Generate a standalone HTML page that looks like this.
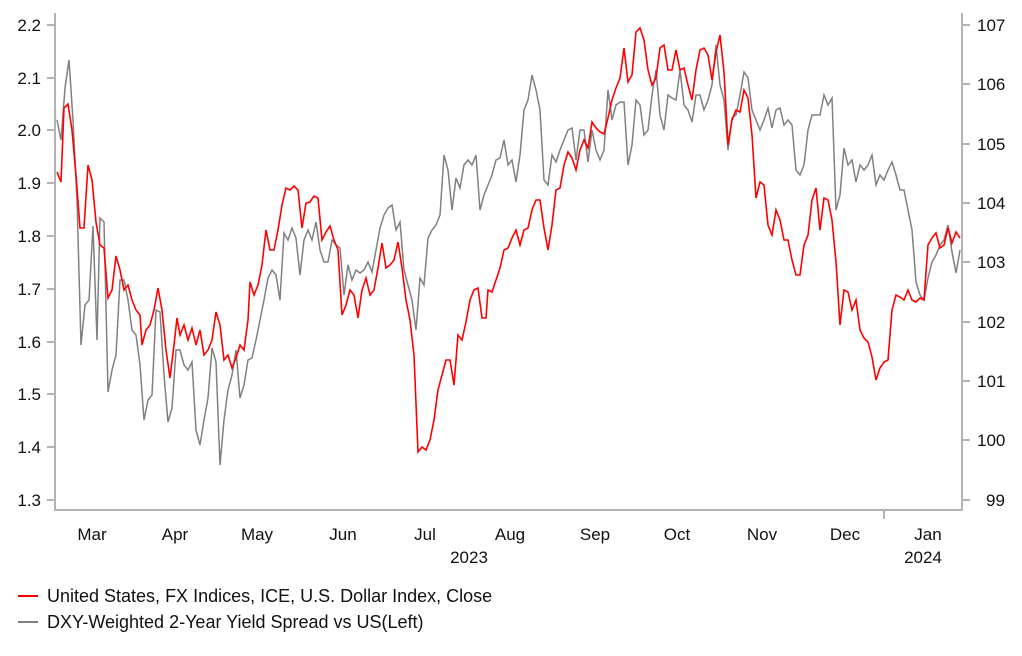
<!DOCTYPE html>
<html><head><meta charset="utf-8"><style>body{margin:0;background:#fff}svg{display:block;font-family:"Liberation Sans",Arial,sans-serif}</style></head><body>
<svg width="1022" height="656" viewBox="0 0 1022 656">
<g stroke="#b3b3b3" stroke-width="2" fill="none">
<path d="M55,13V510H962V13"/>
<path d="M47,25H55M47,78H55M47,130H55M47,183H55M47,236H55M47,289H55M47,342H55M47,394H55M47,447H55M47,500H55"/>
<path d="M962,25H970M962,84H970M962,144H970M962,203H970M962,262H970M962,322H970M962,381H970M962,440H970M962,500H970"/>
<path d="M884,510V519"/>
</g>
<g font-size="17" fill="#111" text-anchor="end">
<text x="41" y="31">2.2</text><text x="41" y="84">2.1</text><text x="41" y="136">2.0</text><text x="41" y="189">1.9</text><text x="41" y="242">1.8</text><text x="41" y="295">1.7</text><text x="41" y="348">1.6</text><text x="41" y="400">1.5</text><text x="41" y="453">1.4</text><text x="41" y="506">1.3</text>
</g>
<g font-size="17" fill="#111" text-anchor="start">
<text x="977" y="31">107</text><text x="977" y="90">106</text><text x="977" y="150">105</text><text x="977" y="209">104</text><text x="977" y="268">103</text><text x="977" y="328">102</text><text x="977" y="387">101</text><text x="977" y="446">100</text><text x="986" y="506">99</text>
</g>
<g font-size="17" fill="#111" text-anchor="middle">
<text x="92" y="540">Mar</text><text x="175" y="540">Apr</text><text x="257" y="540">May</text><text x="343" y="540">Jun</text><text x="425" y="540">Jul</text><text x="510" y="540">Aug</text><text x="595" y="540">Sep</text><text x="677" y="540">Oct</text><text x="762" y="540">Nov</text><text x="845" y="540">Dec</text><text x="928" y="540">Jan</text>
<text x="469" y="563">2023</text><text x="923" y="563">2024</text>
</g>
<polyline fill="none" stroke="#808080" stroke-width="1.5" points="57,120 61,140 65,88 69,60 73,120 77,200 81,345 85,305 89,300 93,226 97,340 100,218 104,222 108,392 112,370 116,355 120,280 124,280 128,300 132,330 136,335 140,365 144,420 148,400 152,395 156,310 160,312 164,375 168,422 172,408 176,350 180,350 184,365 188,370 192,362 196,430 200,445 204,420 208,398 212,348 216,362 220,465 224,420 228,390 232,375 236,350 240,398 244,385 248,360 252,358 256,340 260,320 264,300 268,278 272,270 276,275 280,300 284,233 288,240 292,228 296,238 300,275 304,240 308,230 312,240 316,222 320,250 324,262 328,262 332,240 336,245 340,248 344,295 348,265 352,280 356,270 360,273 364,270 368,262 372,272 376,250 380,228 384,215 388,208 392,205 396,230 400,222 404,270 408,285 412,300 416,330 420,278 424,285 428,238 432,230 436,225 440,215 444,155 448,170 452,210 456,178 460,188 464,165 468,160 472,165 476,155 480,210 484,195 488,185 492,175 496,160 500,158 504,140 508,165 512,160 516,182 520,155 524,110 528,100 532,75 536,90 540,110 544,180 548,185 552,155 556,162 560,150 564,140 568,130 572,128 576,160 580,130 584,130 588,162 592,130 596,150 600,160 604,150 608,90 612,120 616,105 620,102 624,102 628,165 632,145 636,100 640,105 644,135 648,130 652,95 656,70 660,115 664,130 668,95 672,98 676,100 680,70 684,105 688,110 692,122 696,95 700,95 704,110 708,100 712,85 716,45 720,85 724,100 728,150 732,118 736,115 740,95 744,72 748,78 752,110 756,120 760,130 764,120 768,108 772,128 776,110 780,108 784,125 788,120 792,125 796,170 800,175 804,165 808,130 812,115 816,115 820,115 824,95 828,105 832,98 836,210 840,195 844,148 848,165 852,160 856,182 860,165 864,170 868,165 872,155 876,185 880,175 884,180 888,170 892,162 896,175 900,190 904,190 908,210 912,230 916,282 920,295 924,300 928,278 932,262 936,255 940,245 944,240 948,225 952,252 956,273 960,250"/>
<polyline fill="none" stroke="#ff0000" stroke-width="1.6" points="57,172 61,182 64,108 68,104 72,130 76,175 80,228 84,228 88,165 92,180 96,222 100,245 104,248 108,298 112,290 116,256 120,270 124,290 128,285 132,300 136,310 140,315 142,345 146,330 150,325 154,310 158,288 162,310 166,350 170,378 174,345 177,318 180,335 184,325 188,340 192,328 196,345 200,330 204,355 208,350 212,340 216,312 220,325 224,360 228,355 232,368 236,358 240,345 244,350 248,320 250,282 254,295 258,285 262,265 266,230 270,250 274,250 278,230 282,205 286,188 290,190 294,186 298,190 302,228 306,203 310,202 314,196 318,198 322,240 326,232 330,226 334,240 338,250 342,315 346,305 350,290 354,295 358,318 362,290 366,278 370,295 374,290 378,268 382,243 386,268 390,265 394,260 398,242 402,268 406,300 410,320 414,355 418,452 422,447 426,450 430,440 434,420 438,390 442,375 446,360 450,360 454,385 458,335 462,340 466,322 470,300 474,290 478,288 482,318 486,318 488,290 492,292 496,280 500,268 504,250 508,248 512,238 516,230 520,245 524,230 528,228 532,210 536,200 540,200 544,228 548,250 552,225 556,190 560,188 564,165 568,152 572,158 576,170 580,150 584,140 588,148 592,122 596,128 600,132 604,134 608,118 612,100 616,88 620,78 624,48 628,82 632,75 636,32 640,28 644,40 648,70 652,85 656,78 660,48 664,45 668,70 672,70 676,50 680,70 684,68 688,85 692,100 696,70 700,50 704,48 708,55 712,80 716,52 720,35 724,72 728,145 732,120 736,110 740,112 744,90 748,98 752,135 756,198 760,182 764,185 768,225 772,235 776,210 780,220 784,240 788,240 792,260 796,275 800,275 804,245 808,235 812,200 816,188 820,230 824,198 828,200 832,220 836,262 840,325 844,290 848,292 852,310 856,300 860,330 864,338 868,342 872,357 876,380 880,368 884,362 888,360 892,310 896,295 900,297 904,300 908,290 912,300 916,302 920,298 924,300 928,245 932,238 936,233 940,248 944,245 948,228 952,243 956,232 960,238"/>
<line x1="18" y1="596" x2="38" y2="596" stroke="#ff0000" stroke-width="2"/>
<line x1="18" y1="622" x2="38" y2="622" stroke="#808080" stroke-width="2"/>
<g font-size="18" fill="#111">
<text x="47" y="602">United States, FX Indices, ICE, U.S. Dollar Index, Close</text>
<text x="47" y="628">DXY-Weighted 2-Year Yield Spread vs US(Left)</text>
</g>
</svg>
</body></html>
